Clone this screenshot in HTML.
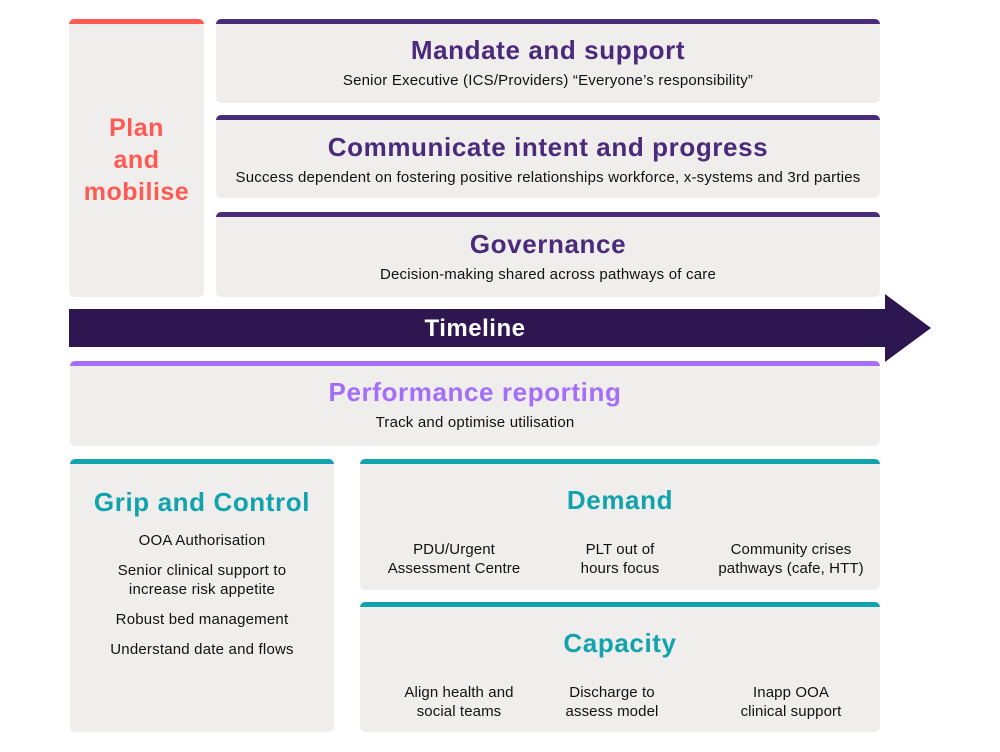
<!DOCTYPE html>
<html><head><style>
body{margin:0;width:1000px;height:752px;background:#fff;font-family:"Liberation Sans",sans-serif;position:relative;overflow:hidden}
.b{position:absolute;background:#f0eeed;border-radius:5px;border-top:5px solid;box-sizing:border-box;text-align:center}
.h{font-weight:bold;font-size:26px;letter-spacing:0.6px;line-height:30px}
.t{font-size:15px;color:#111;letter-spacing:0.2px}
.p{border-color:#4a2a7a}.p .h{color:#4a2a7a}
.c{border-color:#11a3ad}.c .h{color:#11a3ad}
.a{position:absolute;font-size:15px;color:#111;text-align:center;line-height:19px;width:180px;letter-spacing:0.1px}
</style></head><body>
<div class="b" style="left:69px;top:19px;width:135px;height:278px;border-color:#ff5a52">
<div style="position:absolute;top:88px;width:100%;color:#ff5a52;font-weight:bold;font-size:25px;line-height:32px;letter-spacing:0.5px">Plan<br>and<br>mobilise</div></div>
<div class="b p" style="left:216px;top:19px;width:664px;height:84px"><div class="h" style="margin-top:11px">Mandate and support</div><div class="t" style="margin-top:7px">Senior Executive (ICS/Providers) “Everyone’s responsibility”</div></div>
<div class="b p" style="left:216px;top:115px;width:664px;height:83px"><div class="h" style="margin-top:12px">Communicate intent and progress</div><div class="t" style="margin-top:7px">Success dependent on fostering positive relationships workforce, x-systems and 3rd parties</div></div>
<div class="b p" style="left:216px;top:212px;width:664px;height:85px"><div class="h" style="margin-top:12px">Governance</div><div class="t" style="margin-top:7px">Decision-making shared across pathways of care</div></div>
<div style="position:absolute;left:69px;top:309px;width:820px;height:38px;background:#2e1650"></div>
<svg style="position:absolute;left:885px;top:294px" width="46" height="68"><polygon points="0,0 46,34 0,68" fill="#2e1650"/></svg>
<div style="position:absolute;left:69px;top:310px;width:812px;height:38px;line-height:38px;text-align:center;color:#fff;font-weight:bold;font-size:24px;letter-spacing:0.5px">Timeline</div>
<div class="b" style="left:70px;top:361px;width:810px;height:85px;border-color:#a36ef8"><div class="h" style="margin-top:11px;color:#a36ef8">Performance reporting</div><div class="t" style="margin-top:7px">Track and optimise utilisation</div></div>
<div class="b c" style="left:70px;top:459px;width:264px;height:273px"><div class="h" style="margin-top:23px">Grip and Control</div>
<div class="t" style="margin-top:14px;line-height:19px">OOA Authorisation</div>
<div class="t" style="margin-top:11px;line-height:19px">Senior clinical support to<br>increase risk appetite</div>
<div class="t" style="margin-top:11px;line-height:19px">Robust bed management</div>
<div class="t" style="margin-top:11px;line-height:19px">Understand date and flows</div></div>
<div class="b c" style="left:360px;top:459px;width:520px;height:131px"><div class="h" style="margin-top:21px">Demand</div>
<div class="a" style="left:4px;top:76px">PDU/Urgent<br>Assessment Centre</div>
<div class="a" style="left:170px;top:76px">PLT out of<br>hours focus</div>
<div class="a" style="left:341px;top:76px">Community crises<br>pathways (cafe, HTT)</div></div>
<div class="b c" style="left:360px;top:602px;width:520px;height:130px"><div class="h" style="margin-top:21px">Capacity</div>
<div class="a" style="left:9px;top:76px">Align health and<br>social teams</div>
<div class="a" style="left:162px;top:76px">Discharge to<br>assess model</div>
<div class="a" style="left:341px;top:76px">Inapp OOA<br>clinical support</div></div>
</body></html>
